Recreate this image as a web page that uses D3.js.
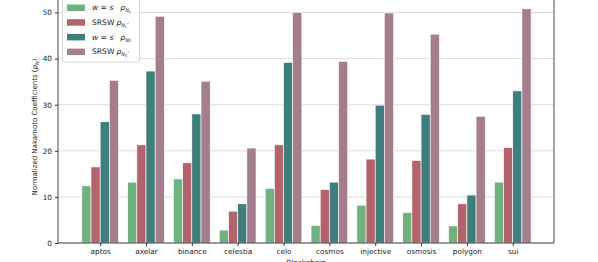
<!DOCTYPE html>
<html>
<head>
<meta charset="utf-8">
<script src="https://cdn.jsdelivr.net/npm/d3@7"></script>
<style>
  body { margin: 0; background: #fff; }
  svg { display: block; font-family: "DejaVu Sans", sans-serif; }
</style>
</head>
<body>
<script>
const chains = ["aptos", "axelar", "binance", "celestia", "celo", "cosmos", "injective", "osmosis", "polygon", "sui"];
const wsL   = [12.4, 13.2, 13.9, 2.8, 11.8, 3.8, 8.2, 6.6, 3.7, 13.2];
const srswL = [16.5, 21.3, 17.4, 6.9, 21.3, 11.6, 18.2, 17.9, 8.5, 20.7];
const wsS   = [26.3, 37.3, 28.0, 8.5, 39.2, 13.2, 29.9, 27.9, 10.4, 33.0];
const srswS = [35.3, 49.2, 35.1, 20.6, 50.0, 39.4, 49.9, 45.3, 27.5, 50.8];
const yTicks = [0, 10, 20, 30, 40, 50];

const series = [
  { vals: wsL,   color: "#6fb280", lab: "w = s", sub: "N", subsub: "L", star: false, italic: true },
  { vals: srswL, color: "#b3636c", lab: "SRSW",  sub: "N", subsub: "L", star: true,  italic: false },
  { vals: wsS,   color: "#3e7e7c", lab: "w = s", sub: "N", subsub: "S", star: false, italic: true },
  { vals: srswS, color: "#a57e8d", lab: "SRSW",  sub: "N", subsub: "S", star: true,  italic: false }
];

const w = 598, h = 262;
const left = 58, right = 554, bottom = 243;

const svg = d3.select("body").append("svg").attr("width", w).attr("height", h);

const x = d3.scaleLinear().domain([-0.92, 9.9]).range([left, right]);
const y = d3.scaleLinear().domain([0, 53.5]).range([bottom, -3.6]);
const bw = x(0.2) - x(0);

// grid
svg.append("g").selectAll("line").data(yTicks).enter().append("line")
   .attr("x1", left).attr("x2", right)
   .attr("y1", d => y(d)).attr("y2", d => y(d))
   .attr("stroke", "#dcdcdc").attr("stroke-width", 1);

// bars
series.forEach((s, i) => {
  svg.append("g").selectAll("rect").data(s.vals).enter().append("rect")
     .attr("x", (d, j) => x(j - 0.4 + i * 0.2))
     .attr("y", d => y(d))
     .attr("width", bw)
     .attr("height", d => y(0) - y(d))
     .attr("fill", s.color)
     .attr("stroke", "#fff").attr("stroke-width", 0.6);
});

// axes
const xAxis = d3.axisBottom(x).tickValues(d3.range(chains.length))
  .tickFormat(i => chains[i]).tickSize(3).tickPadding(3);
const gx = svg.append("g").attr("transform", `translate(0,${bottom})`).call(xAxis);
gx.select(".domain").remove();
gx.selectAll("text").attr("font-size", 7.3).attr("fill", "#222").attr("font-family", "DejaVu Sans");
gx.selectAll("line").attr("stroke", "#333");

const yAxis = d3.axisLeft(y).tickValues(yTicks).tickSize(3).tickPadding(3);
const gy = svg.append("g").attr("transform", `translate(${left},0)`).call(yAxis);
gy.select(".domain").remove();
gy.selectAll("text").attr("font-size", 7.3).attr("fill", "#222").attr("font-family", "DejaVu Sans");
gy.selectAll("line").attr("stroke", "#333");

// spines
[left, right].forEach(px => {
  svg.append("line").attr("x1", px).attr("x2", px).attr("y1", -5).attr("y2", bottom)
     .attr("stroke", "#333").attr("stroke-width", 0.9);
});
svg.append("line").attr("x1", left).attr("x2", right).attr("y1", bottom).attr("y2", bottom)
   .attr("stroke", "#333").attr("stroke-width", 0.9);

// axis labels
svg.append("text").attr("x", (left + right) / 2).attr("y", 264.5)
   .attr("text-anchor", "middle").attr("font-size", 7.3).attr("fill", "#222").text("Blockchain");

const yl = svg.append("text").attr("transform", `translate(37,127) rotate(-90)`)
   .attr("text-anchor", "middle").attr("font-size", 7).attr("fill", "#222");
yl.append("tspan").text("Normalized Nakamoto Coefficients (");
yl.append("tspan").attr("font-style", "italic").text("ρ");
yl.append("tspan").attr("font-size", 5).attr("dy", 1.5).attr("font-style", "italic").text("N");
yl.append("tspan").attr("dy", -1.5).text(")");

// legend
const lg = svg.append("g");
lg.append("rect").attr("x", 62.5).attr("y", -3).attr("width", 77).attr("height", 65)
  .attr("rx", 2).attr("fill", "#fff").attr("fill-opacity", 0.85)
  .attr("stroke", "#ccc").attr("stroke-width", 0.8);
series.forEach((s, i) => {
  const yy = 7.5 + i * 14.7;
  lg.append("rect").attr("x", 67).attr("y", yy - 3).attr("width", 18).attr("height", 6.5)
    .attr("fill", s.color);
  const t = lg.append("text").attr("x", 92).attr("y", yy + 2.8).attr("font-size", 7.6).attr("fill", "#222");
  t.append("tspan").attr("font-style", s.italic ? "italic" : "normal").text(s.lab);
  t.append("tspan").attr("dx", s.italic ? 7 : 2).attr("font-style", "italic").text("ρ");
  t.append("tspan").attr("font-size", 5).attr("dy", 1.8).attr("font-style", "italic").text(s.sub);
  t.append("tspan").attr("font-size", 3.6).attr("dy", 0.9).attr("font-style", "italic").text(s.subsub);
  if (s.star) t.append("tspan").attr("font-size", 3.6).attr("dy", -3).text("*");
});
</script>
</body>
</html>
